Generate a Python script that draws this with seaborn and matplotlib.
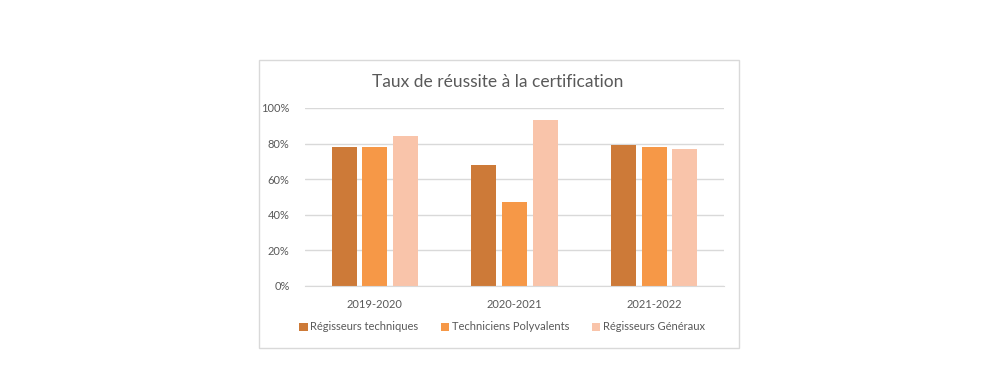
import pandas as pd
import matplotlib.pyplot as plt
import seaborn as sns
from matplotlib.patches import Rectangle
from matplotlib.ticker import PercentFormatter

# Values
years = ['2019-2020', '2020-2021', '2021-2022']
regisseurs_techniques = [0.78, 0.68, 0.79]
techniciens_polyvalents = [0.78, 0.47, 0.78]
regisseurs_generaux = [0.84, 0.93, 0.77]
series_names = ['Régisseurs techniques', 'Techniciens Polyvalents', 'Régisseurs Généraux']
colors = ['#CD7A38', '#F69847', '#F9C4AA']

data = pd.DataFrame({
    'Année': years * 3,
    'Taux': regisseurs_techniques + techniciens_polyvalents + regisseurs_generaux,
    'Groupe': [s for s in series_names for _ in years],
})

sns.set_style('white')
plt.rcParams['font.family'] = ['Lato', 'DejaVu Sans']
text_color = '#595959'

fig = plt.figure(figsize=(9.99, 3.92), dpi=100)
W, H = 999, 392

# chart frame like the Excel chart area
fig.patches.append(Rectangle((259 / W, 1 - 348 / H), 480 / W, 288 / H,
                             transform=fig.transFigure, fill=False,
                             edgecolor='#D9D9D9', linewidth=1))

ax = fig.add_axes([305 / W, 1 - 286 / H, 419 / W, 178 / H])
sns.barplot(data=data, x='Année', y='Taux', hue='Groupe', palette=colors,
            saturation=1, linewidth=0, width=0.66, gap=0.19, ax=ax, legend=True)

ax.set_ylim(0, 1)
ax.set_xlim(-0.5, 2.5)
ax.set_yticks([0, 0.2, 0.4, 0.6, 0.8, 1.0])
ax.yaxis.set_major_formatter(PercentFormatter(1.0, decimals=0))
ax.yaxis.grid(True, color='#D9D9D9', linewidth=1)
ax.set_axisbelow(True)
for side in ['top', 'right', 'left']:
    ax.spines[side].set_visible(False)
ax.spines['bottom'].set_color('#D9D9D9')
ax.tick_params(axis='both', length=0, labelsize=8, colors=text_color, pad=9)
ax.tick_params(axis='y', pad=11)
ax.set_xlabel('')
ax.set_ylabel('')

fig.text(498 / W, 1 - 82 / H, 'Taux de réussite à la certification',
         ha='center', va='center', fontsize=12.5, color=text_color)

handles, labels = ax.get_legend_handles_labels()
ax.get_legend().remove()
fig.legend(handles, labels, loc='center', bbox_to_anchor=(502 / W, 1 - 327 / H),
           ncol=3, frameon=False, fontsize=8, labelcolor=text_color,
           handlelength=0.75, handleheight=0.75, handletextpad=0.25, columnspacing=2.0)

fig.savefig('out.png', dpi=100)
